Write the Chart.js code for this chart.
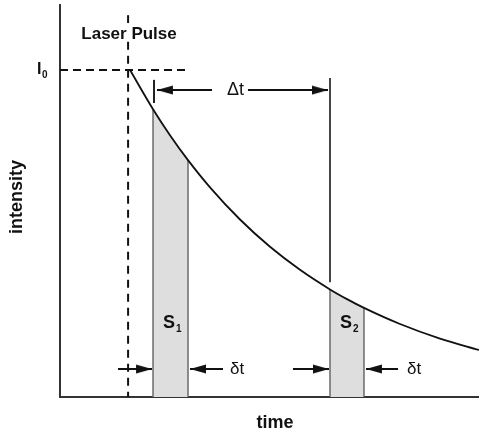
<!DOCTYPE html>
<html>
<head>
<meta charset="utf-8">
<script src="https://cdn.jsdelivr.net/npm/chart.js@4/dist/chart.umd.min.js"></script>
<style>
  html, body { margin: 0; padding: 0; background: #fff; overflow: hidden; }
  #wrap { width: 479px; height: 435px; position: relative; }
  canvas { display: block; }
</style>
</head>
<body>
<div id="wrap"><canvas id="decay"></canvas></div>
<script>
// decay curve (arbitrary units, both axes 0..100)
const curveTime = [16.71, 22.2, 26.25, 30.55, 35.8, 42.96, 50.12, 57.28, 64.44, 68.5, 72.55, 81.15, 90.69, 100];
const curveIntensity = [83.42, 73.42, 66.79, 60.43, 53.49, 45.28, 38.32, 32.45, 27.45, 24.97, 22.73, 18.62, 14.9, 11.99];

// the two gated windows S1 and S2
const s1Time = [22.2, 26.25, 30.55];
const s1Intensity = [73.42, 66.79, 60.43];
const s2Time = [64.44, 68.5, 72.55];
const s2Intensity = [27.45, 24.97, 22.73];

// laser pulse and I0 guide lines
const laserTime = 16.25;
const laserSegments = [[97.4, 95.4], [90.6, 0]];
const i0Level = 83.42;
const i0End = 31.0;

// delta t marker
const deltaTickTime = 22.43;
const deltaTick = [75.0, 80.9];
const deltaLineTop = 81.4;
const deltaLineBottom = 29.3;

// arrows: tail, tip, level
const arrowTail = [36.28, 44.87, 13.84, 38.9, 55.6, 80.67];
const arrowTip = [23.15, 63.96, 21.96, 31.03, 64.2, 73.03];
const arrowLevel = [78.3, 78.3, 7.14, 7.14, 7.14, 7.14];

const FONT = '"Liberation Sans", Arial, Helvetica, sans-serif';

// arrowhead image, tip sits at the centre so rotation keeps it in place
const head = document.createElement('canvas');
head.width = 34;
head.height = 10;
const hc = head.getContext('2d');
hc.fillStyle = '#111';
hc.beginPath();
hc.moveTo(17, 5);
hc.lineTo(1, 0.5);
hc.lineTo(1, 9.5);
hc.closePath();
hc.fill();

const pts = (xs, ys) => xs.map((x, i) => ({ x: x, y: ys[i] }));

const line = (data, color, width, extra) => Object.assign({
  data: data,
  showLine: true,
  borderColor: color,
  borderWidth: width,
  pointRadius: 0,
  fill: false,
}, extra || {});

const arrowSets = arrowTail.map((tail, i) => line(
  [{ x: tail, y: arrowLevel[i] }, { x: arrowTip[i], y: arrowLevel[i] }],
  '#111', 2,
  { pointRadius: [0, 5], pointStyle: head, pointRotation: arrowTip[i] > tail ? 0 : 180 }
));

const edge = (t, top) => line([{ x: t, y: 0 }, { x: t, y: top }], '#6a6a6a', 1.5);

const laserSets = laserSegments.map((s) =>
  line([{ x: laserTime, y: s[0] }, { x: laserTime, y: s[1] }], '#111', 2, { borderDash: [8, 6] }));

const datasets = [
  line(pts(curveTime, curveIntensity), '#111', 1.8, { cubicInterpolationMode: 'monotone' }),
  ...arrowSets,
  line([{ x: 0, y: i0Level }, { x: i0End, y: i0Level }], '#111', 2, { borderDash: [8, 5] }),
  ...laserSets,
  line([{ x: deltaTickTime, y: deltaTick[0] }, { x: deltaTickTime, y: deltaTick[1] }], '#222', 2),
  line([{ x: s2Time[0], y: deltaLineTop }, { x: s2Time[0], y: deltaLineBottom }], '#444', 2),
  edge(s1Time[0], s1Intensity[0]),
  edge(s1Time[2], s1Intensity[2]),
  edge(s2Time[0], s2Intensity[0]),
  edge(s2Time[2], s2Intensity[2]),
  line(pts(s1Time, s1Intensity), 'rgba(0,0,0,0)', 0, { fill: 'origin', backgroundColor: '#dedede', cubicInterpolationMode: 'monotone' }),
  line(pts(s2Time, s2Intensity), 'rgba(0,0,0,0)', 0, { fill: 'origin', backgroundColor: '#dedede', cubicInterpolationMode: 'monotone' }),
];

const labels = [
  { text: 'Laser Pulse', x: 16.47, y: 92.6, font: 'bold 17px ' + FONT, align: 'center' },
  { text: 'Δt', x: 41.9, y: 78.3, font: '18px ' + FONT, align: 'center' },
  { text: 'δt', x: 40.57, y: 7.14, font: '17px ' + FONT, align: 'left' },
  { text: 'δt', x: 82.8, y: 7.14, font: '17px ' + FONT, align: 'left' },
  { text: 'S', sub: '1', x: 24.6, y: 18.9, font: 'bold 18px ' + FONT, align: 'left' },
  { text: 'S', sub: '2', x: 66.8, y: 18.9, font: 'bold 18px ' + FONT, align: 'left' },
];

const textPlugin = {
  id: 'texts',
  afterDraw(chart) {
    const { ctx, chartArea, scales } = chart;
    ctx.save();
    ctx.fillStyle = '#111';
    ctx.textBaseline = 'middle';
    labels.forEach((l) => {
      const px = scales.x.getPixelForValue(l.x);
      const py = scales.y.getPixelForValue(l.y);
      ctx.font = l.font;
      ctx.textAlign = l.align;
      ctx.fillText(l.text, px, py);
      if (l.sub) {
        const w = ctx.measureText(l.text).width;
        ctx.font = 'bold 10px ' + FONT;
        ctx.textAlign = 'left';
        ctx.fillText(l.sub, px + w + 1, py + 6);
      }
    });
    // I0 left of the axis
    const iy = scales.y.getPixelForValue(i0Level);
    ctx.font = 'bold 16px ' + FONT;
    ctx.textAlign = 'left';
    ctx.fillText('I', 37, iy);
    ctx.font = 'bold 10px ' + FONT;
    ctx.fillText('0', 42, iy + 5);
    // axis titles
    ctx.font = 'bold 18px ' + FONT;
    ctx.textAlign = 'center';
    ctx.fillText('time', 275, 423);
    ctx.translate(17, (chartArea.top + chartArea.bottom) / 2 - 4);
    ctx.rotate(-Math.PI / 2);
    ctx.fillText('intensity', 0, 0);
    ctx.restore();
  },
};

new Chart(document.getElementById('decay'), {
  type: 'scatter',
  data: { datasets: datasets },
  options: {
    responsive: true,
    maintainAspectRatio: false,
    animation: false,
    events: [],
    layout: { autoPadding: false, padding: { left: 60, top: 5, right: 0, bottom: 38 } },
    plugins: { legend: { display: false }, tooltip: { enabled: false } },
    scales: {
      x: {
        min: 0, max: 100, z: 1,
        grid: { display: false, drawTicks: false },
        ticks: { display: false },
        border: { display: true, color: '#333', width: 2 },
      },
      y: {
        min: 0, max: 100, z: 1,
        grid: { display: false, drawTicks: false },
        ticks: { display: false },
        border: { display: true, color: '#333', width: 2 },
      },
    },
  },
  plugins: [textPlugin],
});
</script>
</body>
</html>
